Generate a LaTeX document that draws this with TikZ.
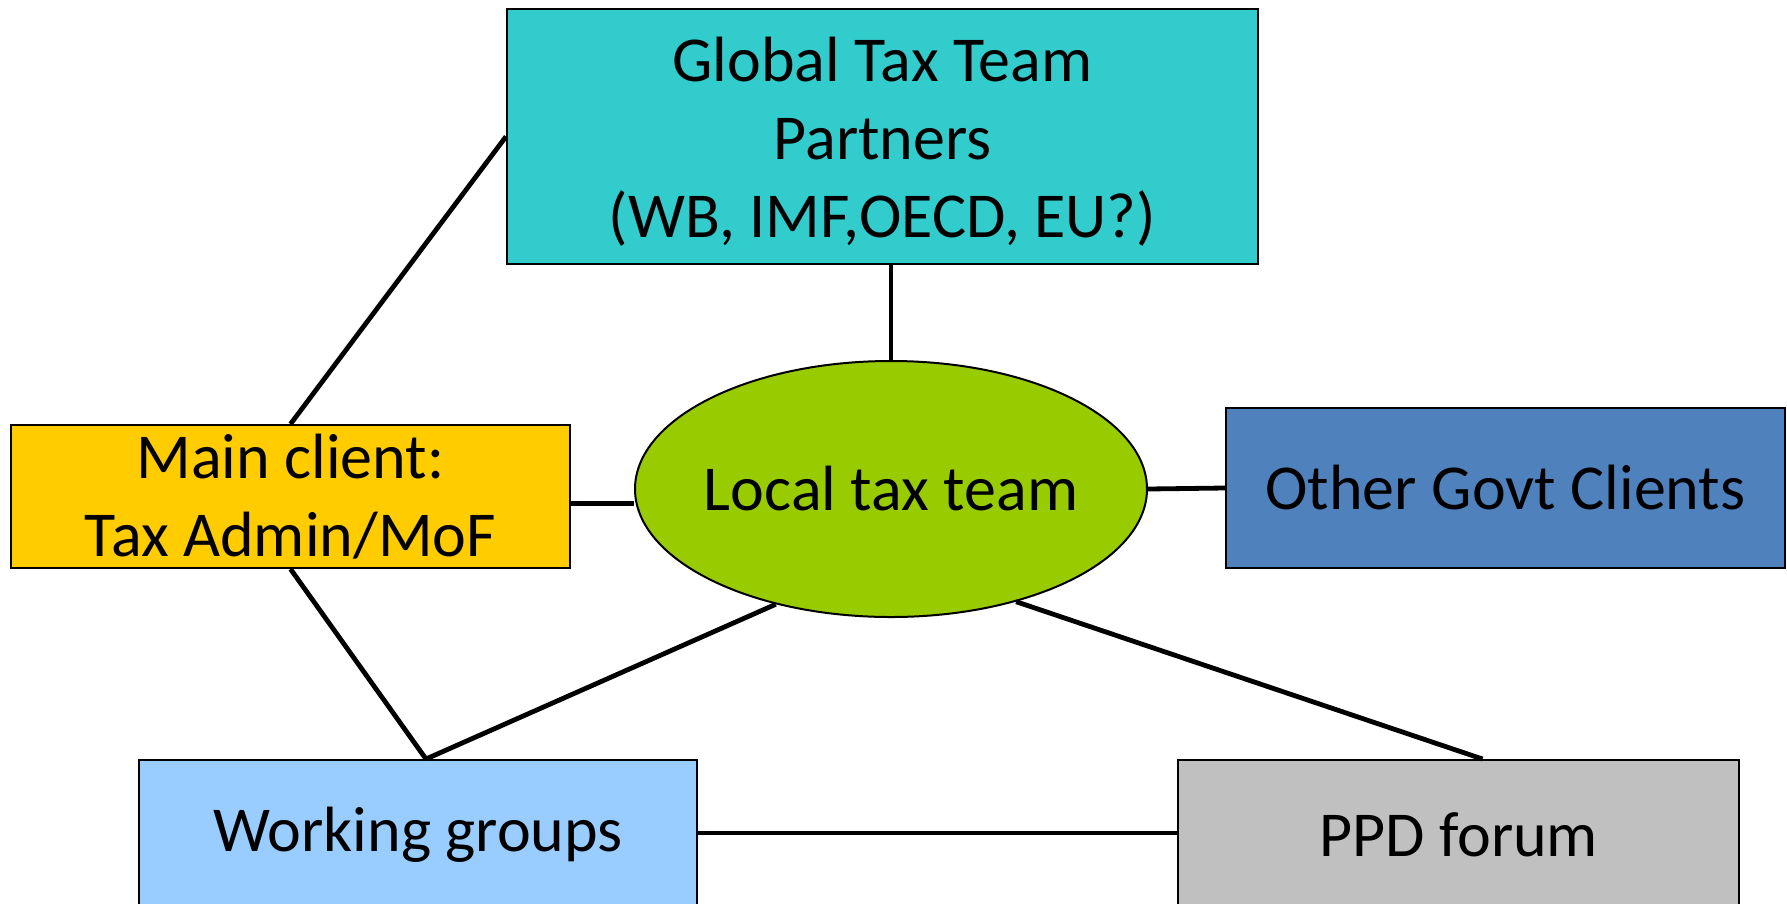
\documentclass[tikz,border=0pt]{standalone}
\usepackage{fontspec}
\setmainfont{Carlito}
\usetikzlibrary{shapes.geometric,calc}
\definecolor{cGlobal}{HTML}{33CCCC}
\definecolor{cMain}{HTML}{FFCC00}
\definecolor{cLocal}{HTML}{99CC00}
\definecolor{cOther}{HTML}{4F81BD}
\definecolor{cWork}{HTML}{99CCFF}
\definecolor{cPPD}{HTML}{C0C0C0}
\tikzset{
  box/.style={draw=black, line width=2pt, inner sep=0pt, align=center,
    font=\fontsize{64}{78}\selectfont},
  txt/.style={inner sep=0pt, align=center, font=\fontsize{64}{78}\selectfont},
  link/.style={draw=black, line width=4.8pt}
}
\begin{document}
\begin{tikzpicture}[x=1pt,y=1pt]
\useasboundingbox (0,0) rectangle (1787,-903);
\clip (0,0) rectangle (1787,-903);
\fill[white] (0,0) rectangle (1787,-903);
\node[box, fill=cGlobal, minimum width=751pt, minimum height=255pt] (global) at (882.5,-136.5) {};
\node[txt] (globaltext) at ($(global.center)+(0,-5)$) {Global Tax Team\\Partners\\(WB, IMF,OECD, EU?)};
\node[box, fill=cMain, minimum width=559pt, minimum height=143pt] (main) at (290.5,-496.5)
  {Main client:\\Tax Admin/MoF};
\node[box, ellipse, inner xsep=-25pt, fill=cLocal, minimum width=512pt, minimum height=256pt] (local) at (891,-489)
  {Local tax team};
\node[box, fill=cOther, minimum width=559pt, minimum height=160pt] (other) at (1505.5,-488)
  {Other Govt Clients};
\node[box, fill=cWork, minimum width=558pt, minimum height=150pt] (work) at (418,-835)
  {Working groups};
\node[box, fill=cPPD, minimum width=561pt, minimum height=150pt] (ppd) at (1458.5,-835)
  {PPD forum};
\coordinate (ppdtop) at ($(ppd.north)+(24,0)$);
\coordinate (worktop) at ($(work.north)+(8,0)$);
\coordinate (mainright) at ($(main.east)+(0,-7)$);
\coordinate (workright) at ($(work.east)+(0,2)$);
\draw[link] (local.north) -- (local.north |- global.south);
\draw[link] (main.north) -- (global.west);
\draw[link] (mainright) -- (mainright -| local.west);
\draw[link] (local.east) -- (other.west);
\draw[link] (main.south) -- (worktop);
\draw[link] (worktop) -- (local.225);
\draw[link] (local.318) -- (ppdtop);
\draw[link] (workright) -- (workright -| ppd.west);
\end{tikzpicture}
\end{document}
